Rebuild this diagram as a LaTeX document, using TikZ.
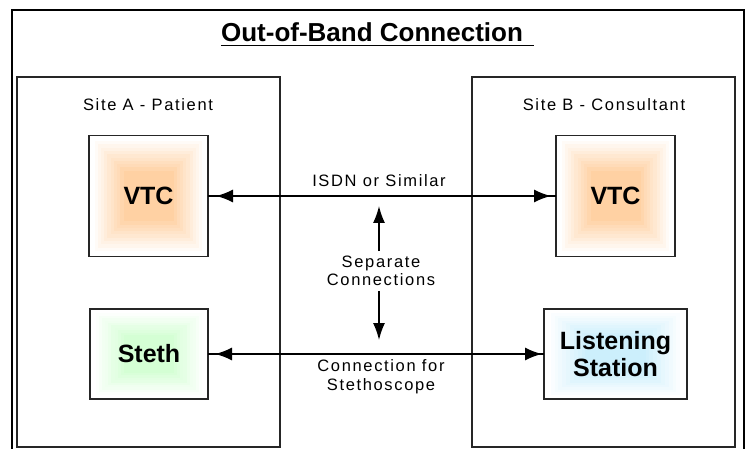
\documentclass[tikz,border=0pt]{standalone}
\usepackage{fontspec}
\setmainfont{Liberation Sans}
\newfontfamily\lblfont[LetterSpace=10]{Liberation Sans}
\usetikzlibrary{calc,arrows.meta}

\tikzset{
  frame/.style={line width=2pt, draw=black},
  sitebox/.style={line width=1.4pt, draw=black!85},
  device/.style={draw=black!85, line width=1.4pt, fill=white, inner sep=0pt,
    outer sep=0pt, align=center, font=\fontsize{25}{27}\selectfont\bfseries},
  lbl/.style={inner sep=0pt, align=center,
    font=\lblfont\fontsize{16.5}{17.5}\selectfont},
  wire/.style={line width=1.5pt, draw=black},
  bigtip/.style={line width=1.5pt, draw=black,
    {Latex[length=17pt,width=13pt]}-{Latex[length=17pt,width=13pt]}},
  uptip/.style={line width=1.5pt, draw=black, -{Latex[length=17pt,width=12pt]}},
  % soft rectangular glow: concentric bands, white rim to coloured core
  glow/.style 2 args={path picture={
    \foreach \i in {1,...,10}{
      \pgfmathtruncatemacro\pc{#2*\i/10}
      \fill[#1!\pc!white]
        ($(path picture bounding box.north west)!0.02+\i*0.027!(path picture bounding box.south east)$)
        rectangle
        ($(path picture bounding box.south east)!0.02+\i*0.027!(path picture bounding box.north west)$);
    }}},
}

\begin{document}
\begin{tikzpicture}[x=1pt,y=-1pt]
  \fill[white] (0,0) rectangle (747,449);
  \useasboundingbox (0,0) rectangle (747,449);

  % outer frame, open at the bottom
  \draw[frame] (12,449) -- (12,10) -- (744,10) -- (744,449);

  % title with underline
  \node[inner sep=0pt, anchor=base, font=\fontsize{26}{30}\selectfont\bfseries]
    (title) at (372,42) {Out-of-Band Connection};
  \draw[line width=1.5pt] ($(title.base west)+(0,3.5)$) -- ($(title.base east)+(11,3.5)$);

  % the two sites
  \draw[sitebox] (17,77) rectangle (280,447);
  \draw[sitebox] (472,77) rectangle (735,447);
  \node[lbl, anchor=base] (siteA) at (148,111) {Site A - Patient};
  \node[lbl, anchor=base] (siteB) at (604,111) {Site B - Consultant};

  % devices
  \node[device, glow={orange}{36}, minimum width=119, minimum height=121] (vtcA) at (148.5,196) {VTC};
  \node[device, glow={orange}{36}, minimum width=119, minimum height=121] (vtcB) at (615.5,196) {VTC};
  \node[device, glow={green}{17}, minimum width=118, minimum height=90] (steth) at (149,354) {Steth};
  \node[device, glow={cyan}{20}, minimum width=143, minimum height=90] (listen) at (615.5,354) {Listening\\Station};

  % video link
  \draw[wire] (vtcA) -- (vtcB);
  \draw[bigtip, shorten <=8pt, shorten >=5pt] (vtcA) -- (vtcB);
  \node[lbl, anchor=base] (isdn) at (379,187) {ISDN or Similar};

  % stethoscope link
  \draw[wire] (steth) -- (listen);
  \draw[bigtip, shorten <=7pt, shorten >=2pt] (steth) -- (listen);
  \node[lbl, anchor=north, font=\lblfont\fontsize{16.5}{19}\selectfont] (stlink) at (381,359.5) {Connection for\\Stethoscope};

  % separate connections note
  \node[lbl, inner ysep=5pt] (sep) at (381,271) {Separate\\Connections};
  \coordinate (upTip) at (379,206);
  \coordinate (downTip) at (379,340);
  \draw[uptip] (sep.north -| upTip) -- (upTip);
  \draw[uptip] (sep.south -| downTip) -- (downTip);
\end{tikzpicture}
\end{document}
